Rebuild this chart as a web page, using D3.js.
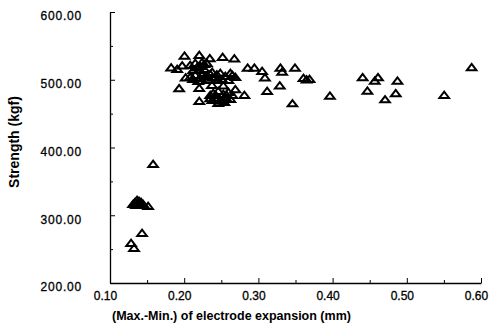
<!DOCTYPE html>
<html><head><meta charset="utf-8">
<script src="https://cdn.jsdelivr.net/npm/d3@7/dist/d3.min.js"></script>
<style>
body{margin:0;background:#fff;}
svg{display:block;font-family:"Liberation Sans",Arial,sans-serif;}
</style></head>
<body>
<svg id="chart" width="493" height="330"></svg>
<script>
// expansion (mm) and strength (kgf) pairs
const expansion = [
  0.1284,0.1324,0.1432,0.1581,0.1514,
  0.1311,0.1338,0.1365,0.1392,0.1419,0.1446,0.1351,0.1405,0.1378,
  0.2004,0.2203,0.2345,0.2518,0.2676,0.1824,0.1905,0.1973,0.2307,0.2855,
  0.2946,0.3050,0.3088,0.3297,0.3320,0.3493,0.3608,0.3649,0.3689,0.3964,
  0.3459,0.4405,0.4612,0.4568,0.4874,0.4469,0.4851,0.4707,0.5504,0.5874,
  0.3288,0.3118,0.2811,0.2689,0.2527,0.2374,0.2203,0.1932,0.2020,0.2203,0.2351,
  0.2081,0.2149,0.2216,0.2270,0.2122,0.2203,0.2270,0.2170,0.2240,
  0.2081,0.2149,0.2216,0.2284,0.2351,0.2419,0.2486,0.2554,0.2622,0.2689,
  0.2189,0.2324,0.2459,0.2595,0.2378,0.2120,0.2250,0.2380,0.2510,0.2650,0.2440,0.2310,
  0.2392,0.2459,0.2527,0.2595,0.2419,0.2486,0.2554,0.2622,0.2459,0.2541,0.2351,0.2649,
  0.2430,0.2500,0.2570,0.2380
];
const strength = [
  259.0,251.7,273.8,375.6,313.7,
  316.6,319.6,322.5,321.0,319.6,316.6,315.1,315.1,318.1,
  535.5,536.5,531.7,533.6,531.4,518.1,515.9,521.0,524.3,517.8,
  517.8,512.9,503.3,517.8,511.9,517.8,502.6,500.4,501.1,476.5,
  465.2,503.6,503.6,498.6,498.6,483.8,480.0,471.1,477.5,518.4,
  491.5,483.4,477.5,485.9,491.5,492.3,487.8,487.4,503.3,468.6,472.6,
  521.8,524.7,520.3,523.2,514.4,514.4,515.9,518.0,526.0,
  504.1,507.0,502.6,505.5,508.5,504.1,510.0,505.5,510.0,504.1,
  498.2,499.6,499.6,499.6,511.4,501.0,509.0,503.0,501.0,507.0,508.0,506.0,
  480.4,483.4,479.0,481.9,473.1,470.1,474.5,471.6,465.7,467.2,477.5,477.5,
  477.0,469.0,478.0,470.0
];
const xTicks = [0.10,0.20,0.30,0.40,0.50,0.60];
const xMinorTicks = [0.15,0.25,0.35,0.45,0.55];
const yTicks = [200,300,400,500,600];
const yMinorTicks = [250,350,450,550];
const xTitle = "(Max.-Min.) of electrode expansion (mm)";
const yTitle = "Strength (kgf)";

const svg = d3.select("#chart");
const x = d3.scaleLinear().domain([0.1,0.6]).range([110,481]);
const y = d3.scaleLinear().domain([200,600]).range([283,12]);

// x axis
const gx = svg.append("g").attr("transform","translate(0,283)")
  .call(d3.axisBottom(x).tickValues(xTicks).tickSizeInner(-5).tickSizeOuter(0).tickFormat(d3.format(".2f")));
gx.select(".domain").attr("stroke","#000").attr("stroke-width",1.3);
gx.selectAll(".tick line").attr("stroke","#000").attr("stroke-width",1);
gx.selectAll(".tick text").attr("y",8).attr("dx",-5).attr("font-size","12px")
  .attr("fill","#000").attr("stroke","#000").attr("stroke-width",0.3)
  .attr("font-family","Liberation Sans, Arial, sans-serif");
const gxm = svg.append("g").attr("transform","translate(0,283)")
  .call(d3.axisBottom(x).tickValues(xMinorTicks).tickSizeInner(-3).tickSizeOuter(0).tickFormat(""));
gxm.select(".domain").remove();
gxm.selectAll(".tick line").attr("stroke","#000");

// y axis
const gy = svg.append("g").attr("transform","translate(110,0)")
  .call(d3.axisLeft(y).tickValues(yTicks).tickSizeInner(-5).tickSizeOuter(0).tickFormat(d3.format(".2f")));
gy.select(".domain").attr("stroke","#000").attr("stroke-width",1.3);
gy.selectAll(".tick line").attr("stroke","#000").attr("stroke-width",1);
gy.selectAll(".tick text").attr("x",-28).attr("dy","0.65em").attr("font-size","12px")
  .attr("letter-spacing","0.8px").attr("fill","#000").attr("stroke","#000").attr("stroke-width",0.3)
  .attr("font-family","Liberation Sans, Arial, sans-serif");
const gym = svg.append("g").attr("transform","translate(110,0)")
  .call(d3.axisLeft(y).tickValues(yMinorTicks).tickSizeInner(-3).tickSizeOuter(0).tickFormat(""));
gym.select(".domain").remove();
gym.selectAll(".tick line").attr("stroke","#000");

// titles
svg.append("text").attr("x",112).attr("y",320).attr("font-size","12.5px")
  .attr("font-weight","bold").attr("fill","#000").text(xTitle);
svg.append("text").attr("transform","translate(19,142) rotate(-90)")
  .attr("text-anchor","middle").attr("font-size","14px").attr("font-weight","bold")
  .attr("fill","#000").text(yTitle);

// points
const tri = "M-4.8,3 H4.8 L0,-3.3 Z";
const pts = expansion.map((e,i)=>({e, s: strength[i]}));
svg.append("g").selectAll("path").data(pts).join("path")
  .attr("d",tri)
  .attr("transform",d=>`translate(${x(d.e)},${y(d.s)})`)
  .attr("fill","none").attr("stroke","#000").attr("stroke-width",2)
  .attr("stroke-linejoin","miter");
</script>
</body></html>
